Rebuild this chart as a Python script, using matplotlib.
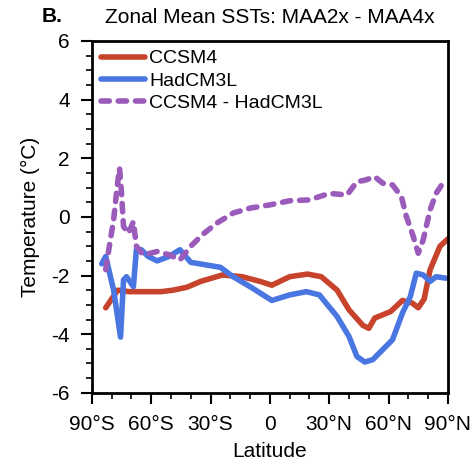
import matplotlib
matplotlib.use("Agg")
import matplotlib.pyplot as plt
from matplotlib.ticker import MultipleLocator

plt.rcParams['font.family'] = ['Liberation Sans', 'DejaVu Sans']
plt.rcParams['axes.unicode_minus'] = False

# CCSM4 zonal mean SST change
ccsm4_lat = [-83, -80, -77, -71, -66, -55, -49, -42, -35, -24, -14, -5, 1, 10, 19,
             26, 34, 40, 47, 50, 53, 61, 67, 72, 75, 78, 81, 86, 90]
ccsm4_val = [-3.1, -2.8, -2.5, -2.55, -2.55, -2.55, -2.5, -2.4, -2.2, -1.98, -2.04, -2.2, -2.33,
             -2.04, -1.95, -2.04, -2.5, -3.17, -3.7, -3.8, -3.45, -3.23, -2.85, -2.94, -3.1,
             -2.8, -1.8, -1.0, -0.75]

# HadCM3L zonal mean SST change
had_lat = [-85, -83, -79, -75.5, -74, -72.5, -69, -67.5, -65, -61.5, -57, -51, -45.5, -40,
           -32, -25, -18.6, -10, 1, 10, 18.5, 25, 34, 40, 44, 48, 52, 57, 62, 67, 71, 74,
           77.5, 81, 84, 89]
had_val = [-1.6, -1.35, -2.5, -4.1, -2.15, -2.04, -2.38, -1.12, -1.12, -1.35, -1.5, -1.35,
           -1.12, -1.55, -1.64, -1.72, -2.04, -2.38, -2.85, -2.66, -2.55, -2.66, -3.4, -4.08,
           -4.76, -4.95, -4.87, -4.53, -4.19, -3.28, -2.72, -1.92, -1.98, -2.2, -2.04, -2.09]

# CCSM4 - HadCM3L
diff_lat = [-83, -82, -79, -77, -76, -75, -74, -71.5, -69, -67.5, -64, -57, -50.5, -45.5,
            -40, -34, -27, -18.6, -10, 0, 10, 20, 30, 39, 44, 48, 53, 57, 62, 66.5, 69, 72.5,
            75, 77.5, 81, 84, 88.5]
diff_val = [-1.8, -1.35, -0.1, 1.15, 1.66, 0.8, -0.33, -0.56, -0.16, -1.0, -1.3, -1.18, -1.3,
            -1.47, -1.0, -0.6, -0.22, 0.13, 0.3, 0.41, 0.55, 0.58, 0.8, 0.75, 1.2, 1.25, 1.37,
            1.15, 1.09, 0.69, 0.01, -0.67, -1.24, -0.78, 0.24, 0.8, 1.26]

xticks = [-90, -60, -30, 0, 30, 60, 90]
xticklabels = ["90°S", "60°S", "30°S", "0", "30°N", "60°N", "90°N"]

fig = plt.figure(figsize=(4.76, 4.71), dpi=100)
ax = fig.add_axes([0.193, 0.166, 0.748, 0.747])

ax.plot(ccsm4_lat, ccsm4_val, color="#C8432C", lw=4, solid_capstyle="round", label="CCSM4")
ax.plot(had_lat, had_val, color="#4A76E2", lw=4, solid_capstyle="round", label="HadCM3L")
ax.plot(diff_lat, diff_val, color="#9B5BBA", lw=4, dashes=(1.5, 1.6),
        dash_capstyle="round", label="CCSM4 - HadCM3L")

ax.set_xlim(-90, 90)
ax.set_ylim(-6, 6)
ax.set_xticks(xticks)
ax.set_xticklabels(xticklabels)
ax.xaxis.set_minor_locator(MultipleLocator(10))
ax.yaxis.set_major_locator(MultipleLocator(2))
ax.yaxis.set_minor_locator(MultipleLocator(0.5))
ax.tick_params(which="major", length=8, width=1.5, labelsize=15, pad=8)
ax.tick_params(which="minor", length=4, width=1.2)
for sp in ax.spines.values():
    sp.set_linewidth(2)

ax.set_xlabel("Latitude", fontsize=15, labelpad=6)
ax.set_ylabel("Temperature (°C)", fontsize=15, labelpad=8)
ax.set_title("Zonal Mean SSTs: MAA2x - MAA4x", fontsize=15, pad=13)
fig.text(0.088, 0.965, "B.", fontsize=15, fontweight="bold", va="center")

ax.legend(loc="upper left", frameon=False, fontsize=14, handlelength=2.3,
          handletextpad=0.2, labelspacing=0.25, borderaxespad=0.15, borderpad=0.3)

fig.savefig("out.png", dpi=100)
